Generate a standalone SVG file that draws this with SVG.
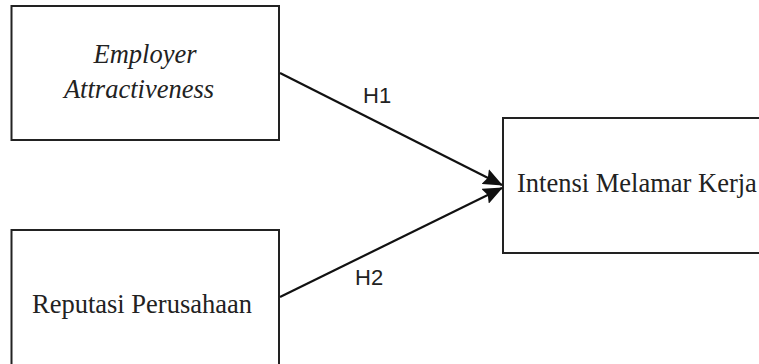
<svg xmlns="http://www.w3.org/2000/svg" width="759" height="364" viewBox="0 0 759 364">
<style>
.box{fill:#fff;stroke:#222;stroke-width:2}
.t{font-family:"Liberation Serif",serif;font-size:26.5px;fill:#222}
.i{font-style:italic}
.lbl{font-family:"Liberation Sans",Arial,sans-serif;font-size:22px;fill:#222}
.c{stroke:#111;stroke-width:2.2;fill:none}
</style>
<defs>
<marker id="ah" viewBox="0 0 10 10" refX="9.5" refY="5" markerWidth="9" markerHeight="7.5" orient="auto" markerUnits="strokeWidth" preserveAspectRatio="none">
<path d="M0,0 L10,5 L0,10 L1.5,5 Z" fill="#111"/>
</marker>
</defs>
<rect width="759" height="364" fill="#fff"/>
<g id="node-employer">
<rect class="box" x="11.5" y="6" width="267.5" height="134"/>
<text class="t i" x="145" y="63" text-anchor="middle">Employer</text>
<text class="t i" x="139" y="98" text-anchor="middle">Attractiveness</text>
</g>
<g id="node-reputasi">
<rect class="box" x="11.5" y="230" width="267.5" height="140"/>
<text class="t" x="142" y="313" text-anchor="middle">Reputasi Perusahaan</text>
</g>
<g id="node-intensi">
<rect class="box" x="503" y="118" width="270" height="135"/>
<text class="t" x="517" y="192">Intensi Melamar Kerja</text>
</g>
<g id="connectors">
<line class="c" x1="280" y1="73" x2="502" y2="185" marker-end="url(#ah)"/>
<line class="c" x1="280" y1="297" x2="502" y2="188" marker-end="url(#ah)"/>
<text class="lbl" x="363" y="103">H1</text>
<text class="lbl" x="355" y="285">H2</text>
</g>
</svg>
